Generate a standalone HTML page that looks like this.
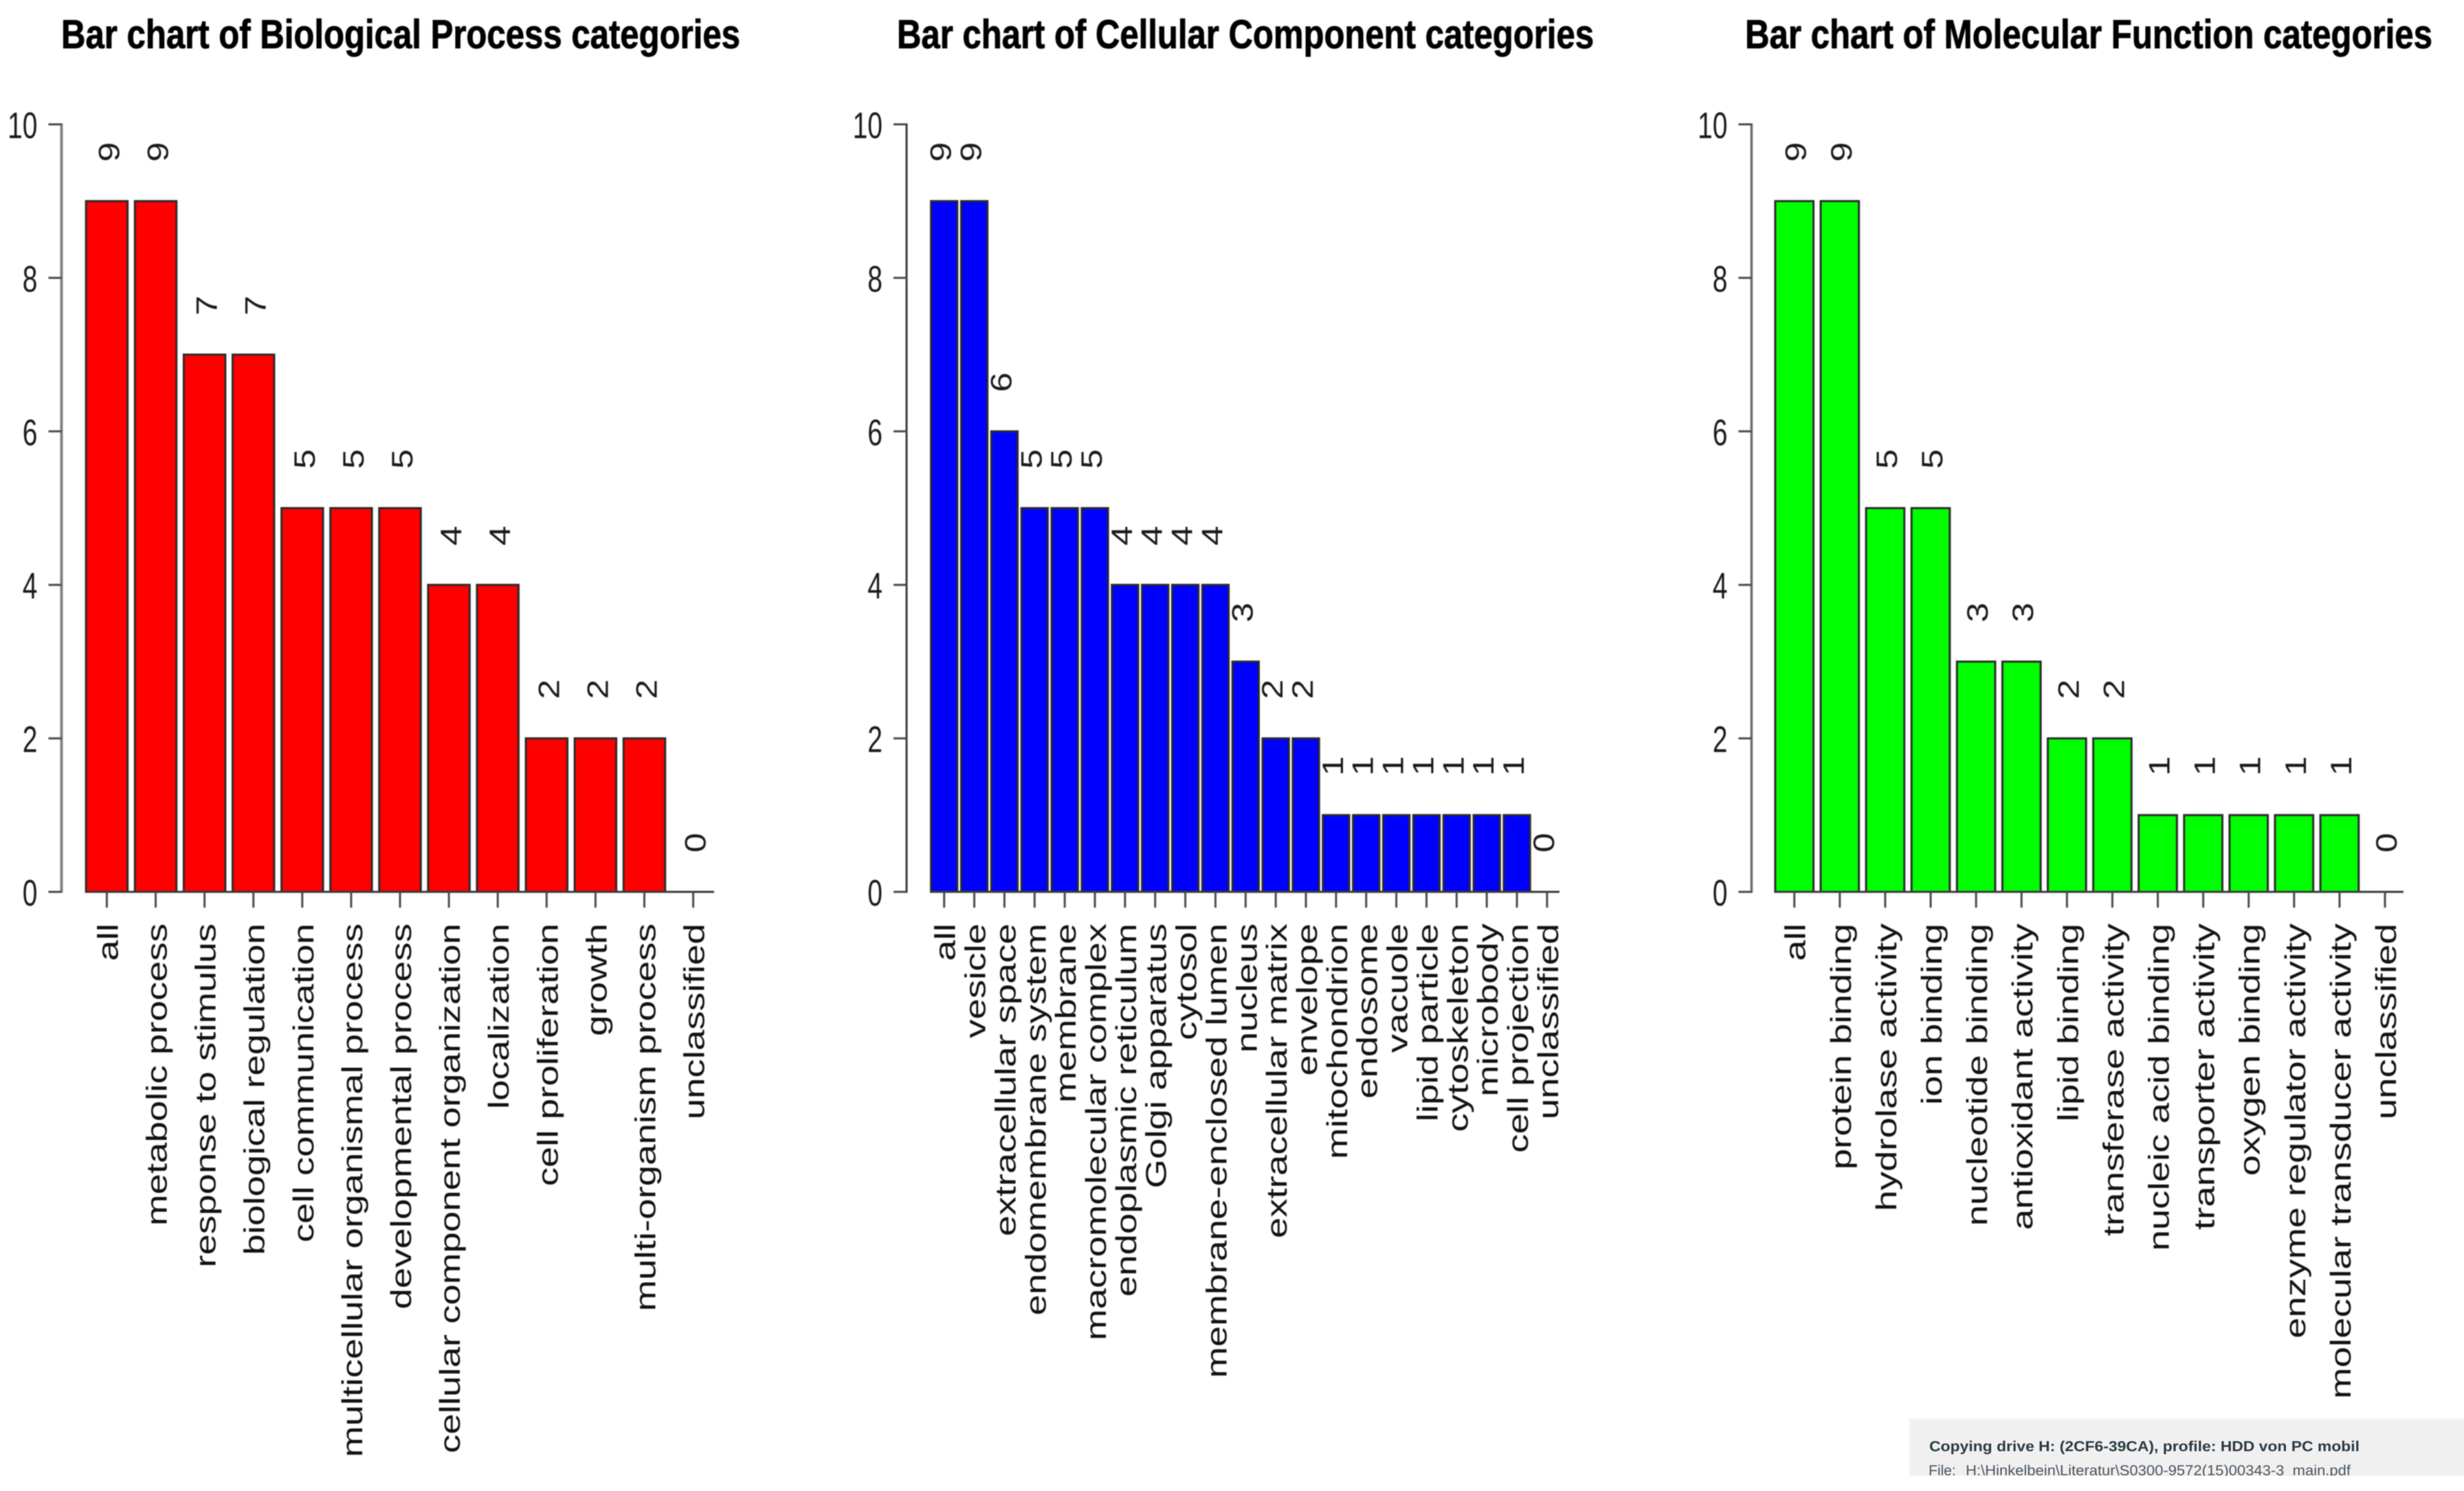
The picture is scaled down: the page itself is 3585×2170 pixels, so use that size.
<!DOCTYPE html>
<html lang="en">
<head>
<meta charset="utf-8">
<title>Bar charts of GO categories</title>
<style>
html,body{margin:0;padding:0;background:#fff;width:3585px;height:2170px;overflow:hidden}
svg{display:block;position:absolute;left:0;top:0}
text{font-family:"Liberation Sans",Arial,sans-serif;text-rendering:geometricPrecision}
#plots{filter:blur(0.9px)}
</style>
</head>
<body>
<svg id="chart" width="3585" height="2170" viewBox="0 0 3585 2170" xmlns="http://www.w3.org/2000/svg">
  <rect x="0" y="0" width="3585" height="2170" fill="#ffffff"/>
  <g id="plots"></g>
  <g>
    <rect x="2777" y="2063" width="808" height="85" fill="#f0f0f0"/>
    <rect x="2777" y="2063" width="808" height="3" fill="#f7f7f7"/>
    <rect x="2777" y="2063" width="3" height="85" fill="#f7f7f7"/>
    <clipPath id="boxClip"><rect x="2777" y="2063" width="808" height="85"/></clipPath>
    <g clip-path="url(#boxClip)" style="filter:blur(0.5px)">
      <text x="2807" y="2112" font-size="21" font-weight="700" fill="#2a3a44" textLength="626" lengthAdjust="spacingAndGlyphs">Copying drive H: (2CF6-39CA), profile: HDD von PC mobil</text>
      <text x="2806" y="2147" font-size="21" fill="#4a5560">File:</text>
      <text x="2860" y="2147" font-size="21" fill="#4a5560" textLength="560" lengthAdjust="spacingAndGlyphs">H:\Hinkelbein\Literatur\S0300-9572(15)00343-3_main.pdf</text>
    </g>
  </g>
</svg>
<script>
const bpCategories = ["all","metabolic process","response to stimulus","biological regulation","cell communication","multicellular organismal process","developmental process","cellular component organization","localization","cell proliferation","growth","multi-organism process","unclassified"];
const bpValues = [9,9,7,7,5,5,5,4,4,2,2,2,0];
const ccCategories = ["all","vesicle","extracellular space","endomembrane system","membrane","macromolecular complex","endoplasmic reticulum","Golgi apparatus","cytosol","membrane-enclosed lumen","nucleus","extracellular matrix","envelope","mitochondrion","endosome","vacuole","lipid particle","cytoskeleton","microbody","cell projection","unclassified"];
const ccValues = [9,9,6,5,5,5,4,4,4,4,3,2,2,1,1,1,1,1,1,1,0];
const mfCategories = ["all","protein binding","hydrolase activity","ion binding","nucleotide binding","antioxidant activity","lipid binding","transferase activity","nucleic acid binding","transporter activity","oxygen binding","enzyme regulator activity","molecular transducer activity","unclassified"];
const mfValues = [9,9,5,5,3,3,2,2,1,1,1,1,1,0];
const yTickValues = [0,2,4,6,8,10];
const yTickLabels = ["0","2","4","6","8","10"];

const NS = "http://www.w3.org/2000/svg";
const plots = document.getElementById("plots");
const Y_ZERO = 1298;
const Y_UNIT = 111.7;
const yScale = v => Y_ZERO - v * Y_UNIT;

function make(tag, attrs, parent) {
  const el = document.createElementNS(NS, tag);
  for (const k in attrs) el.setAttribute(k, attrs[k]);
  parent.appendChild(el);
  return el;
}

function drawPanel(key, opts, categories, values) {
  const xScale = i => opts.firstCenter + i * opts.pitch;
  const g = make("g", {}, plots);
  
  

  const title = make("text", {
    x: opts.titleX, y: 70, "font-size": 59, "font-weight": 700, fill: "#000",
    stroke: "#000", "stroke-width": 0.9,
    textLength: opts.titleWidth, lengthAdjust: "spacingAndGlyphs"
  }, g);
  
  
  title.textContent = opts.title;

  // Y axis
  const yAxis = make("line", {
    x1: opts.axisX, x2: opts.axisX, y1: yScale(10) - 1.5, y2: yScale(0) + 1.5,
    stroke: opts.axisColor, "stroke-width": opts.axisWidth
  }, g);
  
  

  yTickValues.forEach((v, i) => {
    const tick = make("line", {
      x1: opts.axisX - 19, x2: opts.axisX, y1: yScale(v), y2: yScale(v),
      stroke: "#4a4a4a", "stroke-width": 3
    }, g);
    
    
    const label = make("text", {
      transform: "translate(" + (opts.axisX - 35) + "," + (yScale(v) + 20) + ") scale(1,1.38)",
      "font-size": 39, "text-anchor": "end", fill: "#1a1a1a"
    }, g);
    
    
    label.textContent = yTickLabels[i];
  });

  // Bars
  values.forEach((v, i) => {
    const cx = xScale(i);
    if (v > 0) {
      const bar = make("rect", {
        x: cx - opts.barWidth / 2, y: yScale(v), width: opts.barWidth, height: yScale(0) - yScale(v),
        fill: opts.color, stroke: "#2a2a2a", "stroke-width": 3
      }, g);
      
      
    }
    const val = make("text", {
      transform: "translate(" + (cx + opts.valueOffset) + "," + (yScale(v + 0.64)) + ") scale(1,1.2) rotate(-90)",
      "font-size": 43, "text-anchor": "middle", fill: "#1a1a1a"
    }, g);
    
    
    val.textContent = String(v);
  });

  // X axis
  const xAxis = make("line", {
    x1: xScale(0) - opts.barWidth / 2, x2: opts.axisEnd, y1: yScale(0), y2: yScale(0),
    stroke: "#3a3a3a", "stroke-width": 3
  }, g);
  
  

  categories.forEach((c, i) => {
    const cx = xScale(i);
    const tick = make("line", {
      x1: cx, x2: cx, y1: yScale(0), y2: yScale(0) + 23,
      stroke: "#4a4a4a", "stroke-width": 3
    }, g);
    
    
    const label = make("text", {
      transform: "translate(" + (cx + 16) + ",1344) scale(1,1.3) rotate(-90)",
      "font-size": 42, "text-anchor": "end", fill: "#111"
    }, g);
    
    
    label.textContent = c;
  });
}

drawPanel("biological-process", {
  title: "Bar chart of Biological Process categories", titleX: 89, titleWidth: 988,
  axisX: 89.5, axisColor: "#808080", axisWidth: 4,
  firstCenter: 155.4, pitch: 71.1, barWidth: 60.5, axisEnd: 1039, color: "#ff0000", valueOffset: 18
}, bpCategories, bpValues);

drawPanel("cellular-component", {
  title: "Bar chart of Cellular Component categories", titleX: 1305, titleWidth: 1014,
  axisX: 1319, axisColor: "#3a3a3a", axisWidth: 3,
  firstCenter: 1373.7, pitch: 43.86, barWidth: 38.3, axisEnd: 2269, color: "#0000ff", valueOffset: 10
}, ccCategories, ccValues);

drawPanel("molecular-function", {
  title: "Bar chart of Molecular Function categories", titleX: 2539, titleWidth: 1000,
  axisX: 2548.4, axisColor: "#6a6a6a", axisWidth: 3.5,
  firstCenter: 2610.7, pitch: 66.1, barWidth: 55.7, axisEnd: 3497, color: "#00ff00", valueOffset: 17
}, mfCategories, mfValues);
</script>
</body>
</html>
